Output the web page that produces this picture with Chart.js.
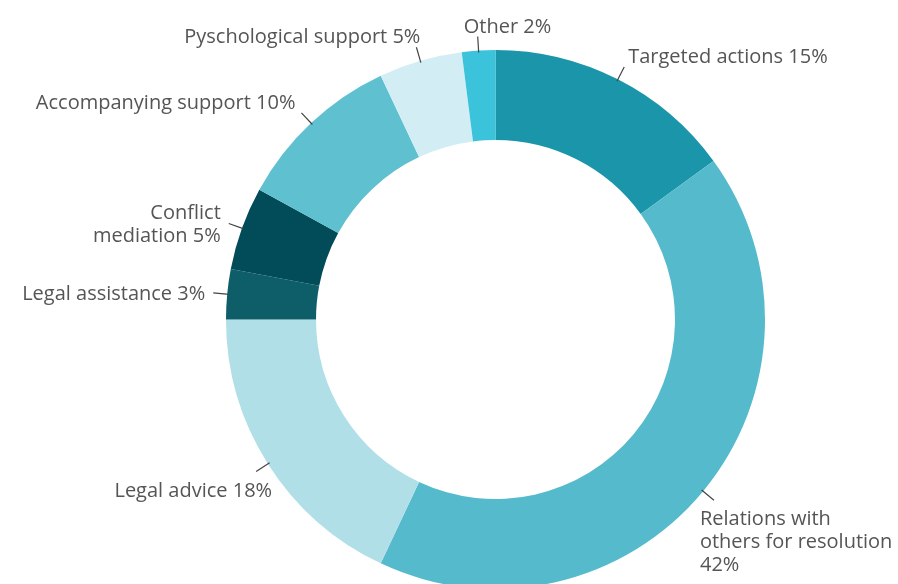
<!DOCTYPE html>
<html>
<head>
<meta charset="utf-8">
<script src="https://cdn.jsdelivr.net/npm/chart.js@4"></script>
<style>
    html, body { margin: 0; padding: 0; background: #fff; overflow: hidden; }
    #wrap { width: 898px; height: 639px; }
</style>
</head>
<body>
<div id="wrap"><canvas id="donut"></canvas></div>
<script>
    // Data, clockwise from 12 o'clock
    const categories = [
        'Targeted actions',
        'Relations with\nothers for resolution\n',
        'Legal advice',
        'Legal assistance',
        'Conflict\nmediation',
        'Accompanying support',
        'Pyschological support',
        'Other'
    ];
    const shares = [15, 42, 18, 3, 5, 10, 5, 2];
    const sliceColors = ['#1b95aa', '#55bbcc', '#b0dfe7', '#0e5e6a', '#024b58', '#5fc0cf', '#d2eef4', '#3bc3db'];

    const FONT = '20px "Open Sans", sans-serif';
    const LINE_H = 23;

    // Leader lines + outside labels
    const outsideLabels = {
        id: 'outsideLabels',
        afterDatasetsDraw(chart) {
            const ctx = chart.ctx;
            const meta = chart.getDatasetMeta(0);
            ctx.save();
            ctx.font = FONT;
            ctx.fillStyle = '#555';
            ctx.strokeStyle = '#444';
            ctx.lineWidth = 1.2;
            meta.data.forEach(function(arc, i) {
                const mid = (arc.startAngle + arc.endAngle) / 2;
                const cx = arc.x, cy = arc.y, r = arc.outerRadius;
                const c = Math.cos(mid), s = Math.sin(mid);
                const x0 = cx + (r - 2) * c, y0 = cy + (r - 2) * s;
                const ex = cx + (r + 14) * c, ey = cy + (r + 14) * s;
                ctx.beginPath();
                ctx.moveTo(x0, y0);
                ctx.lineTo(ex, ey);
                ctx.stroke();

                const text = (categories[i] + ' ' + shares[i] + '%').split('\n').map(function(t) { return t.trim(); });
                const h = text.length * LINE_H;
                // s < 0 means above the centre, c > 0 means right side
                let align, x, top;
                if (s < -0.5) {
                    // top labels
                    if (Math.abs(c) < 0.15) { align = 'left'; x = ex - 14; }
                    else if (c > 0) { align = 'left'; x = ex + 4; }
                    else { align = 'right'; x = Math.abs(c) > 0.5 ? ex - 6 : ex + 4; }
                    top = ey + 2 - h;
                } else if (s > 0.5) {
                    // bottom labels
                    if (c > 0) { align = 'left'; x = ex - 14; }
                    else { align = 'right'; x = ex + 16; }
                    top = ey + 8;
                } else {
                    align = c > 0 ? 'left' : 'right';
                    x = c > 0 ? ex + 8 : ex - 8;
                    top = ey - h / 2 + 1;
                }
                ctx.textAlign = align;
                ctx.textBaseline = 'middle';
                text.forEach(function(line, k) {
                    ctx.fillText(line, x, top + LINE_H * k + LINE_H / 2);
                });
            });
            ctx.restore();
        }
    };

    new Chart(document.getElementById('donut'), {
        type: 'doughnut',
        data: {
            labels: categories,
            datasets: [{
                data: shares,
                backgroundColor: sliceColors,
                borderWidth: 0
            }]
        },
        options: {
            responsive: true,
            maintainAspectRatio: false,
            animation: false,
            cutout: '66.6%',
            layout: { padding: { top: 50, bottom: 50, left: 93, right: 0 } },
            plugins: {
                legend: { display: false },
                tooltip: { enabled: false }
            }
        },
        plugins: [outsideLabels]
    });
</script>
</body>
</html>
